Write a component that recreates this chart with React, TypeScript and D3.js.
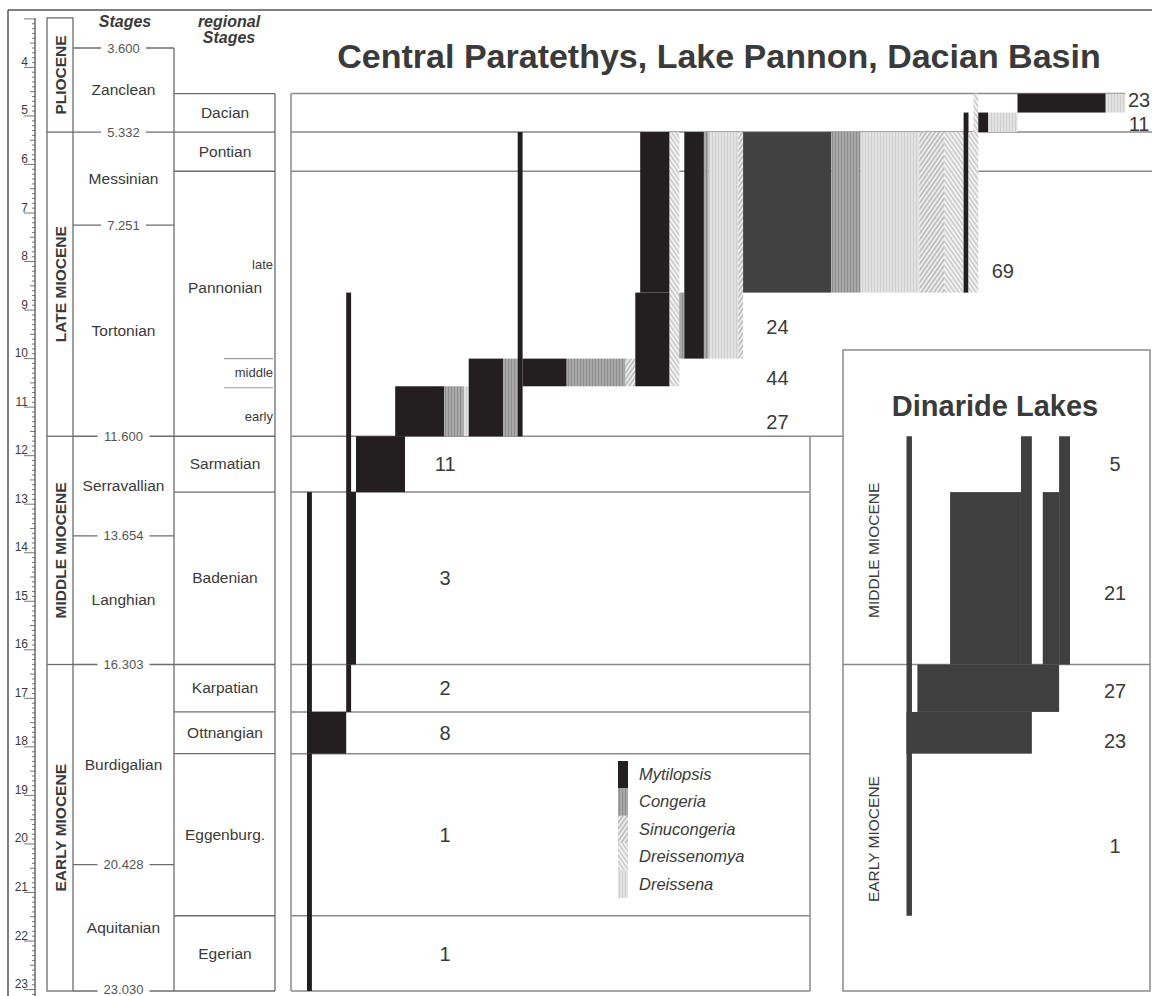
import React, { useRef, useEffect } from 'react';
import * as d3 from 'd3';

// ages in Ma, bar widths in number of species
const ageTicks = [4, 5, 6, 7, 8, 9, 10, 11, 12, 13, 14, 15, 16, 17, 18, 19, 20, 21, 22, 23];

const epochNames = ['PLIOCENE', 'LATE MIOCENE', 'MIDDLE MIOCENE', 'EARLY MIOCENE'];
const epochBounds = [2.98, 5.332, 11.6, 16.303, 23.03];

const stageNames = ['Zanclean', 'Messinian', 'Tortonian', 'Serravallian', 'Langhian', 'Burdigalian', 'Aquitanian'];
const stageBounds = [3.6, 5.332, 7.251, 11.6, 13.654, 16.303, 20.428, 23.03];
const stageBoundLabels = ['3.600', '5.332', '7.251', '11.600', '13.654', '16.303', '20.428', '23.030'];

const regionalNames = ['Dacian', 'Pontian', 'Pannonian', 'Sarmatian', 'Badenian', 'Karpatian', 'Ottnangian', 'Eggenburg.', 'Egerian'];
const regionalBounds = [4.54, 5.332, 6.14, 11.6, 12.75, 16.303, 17.28, 18.14, 21.48, 23.03];
const regionalLabelAges = [4.94, 5.74, 8.55, 12.18, 14.53, 16.79, 17.71, 19.81, 22.26];
const pannonianSubNames = ['late', 'middle', 'early'];
const pannonianSubBounds = [10.0, 10.6];
const pannonianSubLabelAges = [8.07, 10.3, 11.2];

const genera = ['Mytilopsis', 'Congeria', 'Sinucongeria', 'Dreissenomya', 'Dreissena'];

// [genus, first species slot, last species slot, young age, old age]
const paratethysRanges: [string, number, number, number, number][] = [
  ['Mytilopsis', 0, 1, 18.14, 23.03],
  ['Mytilopsis', 0, 8, 17.28, 18.14],
  ['Mytilopsis', 0, 1, 12.75, 17.28],
  ['Mytilopsis', 8, 9, 16.303, 17.28],
  ['Mytilopsis', 8, 10, 12.75, 16.303],
  ['Mytilopsis', 8, 9, 8.64, 12.75],
  ['Mytilopsis', 10, 20, 11.6, 12.75],
  ['Mytilopsis', 18, 28, 10.57, 11.6],
  ['Congeria', 28, 32, 10.57, 11.6],
  ['Dreissena', 32, 33, 10.57, 11.6],
  ['Mytilopsis', 33, 40, 10.0, 11.6],
  ['Congeria', 40, 43, 10.0, 11.6],
  ['Mytilopsis', 43, 44, 5.332, 11.6],
  ['Mytilopsis', 44, 53, 10.0, 10.57],
  ['Congeria', 53, 65, 10.0, 10.57],
  ['Sinucongeria', 65, 67, 10.0, 10.57],
  ['Mytilopsis', 67, 74, 8.64, 10.57],
  ['Mytilopsis', 68, 74, 5.332, 8.64],
  ['Dreissenomya', 74, 76, 5.332, 10.57],
  ['Congeria', 76, 77, 8.64, 10.0],
  ['Mytilopsis', 77, 81, 5.332, 10.0],
  ['Congeria', 81, 82, 5.332, 10.0],
  ['Dreissena', 82, 88, 5.332, 10.0],
  ['Sinucongeria', 88, 89, 5.332, 10.0],
  ['Congeria s.l.', 89, 107, 5.332, 8.64],
  ['Congeria', 107, 113, 5.332, 8.64],
  ['Dreissena', 113, 125, 5.332, 8.64],
  ['Sinucongeria', 125, 130, 5.332, 8.64],
  ['Dreissenomya', 130, 134, 5.332, 8.64],
  ['Mytilopsis', 134, 135, 4.93, 8.64],
  ['Dreissenomya', 135, 137, 5.332, 8.64],
  ['Dreissenomya', 136, 137, 4.54, 5.332],
  ['Mytilopsis', 137, 139, 4.93, 5.332],
  ['Dreissena', 139, 145, 4.93, 5.332],
  ['Mytilopsis', 145, 163, 4.54, 4.93],
  ['Dreissena', 163, 167, 4.54, 4.93],
];
const paratethysCounts = ['1', '1', '8', '2', '3', '11', '27', '44', '24', '69', '11', '23'];
const paratethysCountAges = [22.26, 19.81, 17.71, 16.79, 14.53, 12.18, 11.3, 10.4, 9.35, 8.2, 5.16, 4.68];
const paratethysCountSlots = [28.2, 28.2, 28.2, 28.2, 28.2, 28.2, 96, 96, 96, 142, 169.8, 169.8];

const dinarideEpochNames = ['MIDDLE MIOCENE', 'EARLY MIOCENE'];
const dinarideEpochLabelAges = [13.95, 19.9];
const dinarideRanges: [number, number, number, number][] = [
  [0, 1, 11.6, 21.48],
  [0, 23, 17.28, 18.14],
  [2, 28, 16.303, 17.28],
  [8, 21, 12.75, 16.303],
  [21, 23, 11.6, 16.303],
  [25, 28, 12.75, 16.303],
  [28, 30, 11.6, 16.303],
];
const dinarideCounts = ['5', '21', '27', '23', '1'];
const dinarideCountAges = [12.17, 14.82, 16.84, 17.87, 20.04];

export default function App() {
  const svgRef = useRef<SVGSVGElement>(null);

  useEffect(() => {
    document.body.style.margin = '0';
    const svg = d3.select(svgRef.current);
    svg.selectAll('*').remove();

    const font = "'Liberation Sans', Arial, sans-serif";
    const ink = '#3a3a3a';
    const rule = '#6c6c6c';
    const frame = '#8a8a8a';

    const y = d3.scaleLinear().domain([3.6, 23.03]).range([48, 991]);
    const xP = d3.scaleLinear().domain([0, 170]).range([307, 307 + 170 * 4.9]);
    const xD = d3.scaleLinear().domain([0, 30]).range([906.5, 906.5 + 30 * 5.45]);

    // fills for the genera
    const defs = svg.append('defs');
    const hatch = (id: string, bg: string, fg: string, size: number, angle: number, lw: number) => {
      const p = defs
        .append('pattern')
        .attr('id', id)
        .attr('patternUnits', 'userSpaceOnUse')
        .attr('width', size)
        .attr('height', size)
        .attr('patternTransform', `rotate(${angle})`);
      p.append('rect').attr('width', size).attr('height', size).attr('fill', bg);
      p.append('line')
        .attr('x1', size / 2)
        .attr('x2', size / 2)
        .attr('y1', -1)
        .attr('y2', size + 1)
        .attr('stroke', fg)
        .attr('stroke-width', lw);
    };
    hatch('congeria', '#acacac', '#8c8c8c', 3, 0, 1.2);
    hatch('sinucongeria', '#eeeeee', '#9a9a9a', 3.5, 35, 1);
    hatch('dreissenomya', '#f3f3f3', '#b2b2b2', 3.5, -35, 1);
    hatch('dreissena', '#e2e2e2', '#cfcfcf', 3, 0, 1);
    const fills: Record<string, string> = {
      Mytilopsis: '#231f20',
      Congeria: 'url(#congeria)',
      'Congeria s.l.': '#414141',
      Sinucongeria: 'url(#sinucongeria)',
      Dreissenomya: 'url(#dreissenomya)',
      Dreissena: 'url(#dreissena)',
    };

    const line = (x1: number, y1: number, x2: number, y2: number, color = rule, w = 1.3) =>
      svg.append('line').attr('x1', x1).attr('y1', y1).attr('x2', x2).attr('y2', y2)
        .attr('stroke', color).attr('stroke-width', w);
    const text = (x: number, yy: number, s: string, size: number, anchor = 'middle') =>
      svg.append('text').attr('x', x).attr('y', yy).attr('text-anchor', anchor)
        .attr('font-family', font).attr('font-size', size).attr('fill', ink).text(s);

    // figure frame
    line(8, 10, 1152, 10, '#555', 1.5);
    line(8, 10, 8, 996, '#555', 1.5);

    // age axis
    line(35, 18, 35, 996, '#555', 1.3);
    d3.range(30, 236).forEach((k) => {
      const t = k / 10;
      const len = k % 10 === 0 ? 11 : k % 5 === 0 ? 5 : 3;
      line(35 - len, y(t), 35, y(t), '#555', 0.8);
    });
    ageTicks.forEach((t) => text(28, y(t) - 1.5, String(t), 12, 'end'));

    // epochs
    svg.append('rect').attr('x', 47).attr('y', y(epochBounds[0])).attr('width', 26)
      .attr('height', y(23.03) - y(epochBounds[0])).attr('fill', 'none').attr('stroke', rule).attr('stroke-width', 1.3);
    epochBounds.slice(1, -1).forEach((b) => line(47, y(b), 73, y(b)));
    epochNames.forEach((n, i) => {
      const cy = y((epochBounds[i] + epochBounds[i + 1]) / 2);
      svg.append('text').attr('transform', `translate(66,${cy}) rotate(-90)`).attr('text-anchor', 'middle')
        .attr('font-family', font).attr('font-size', 15.5).attr('font-weight', 'bold').attr('fill', ink).text(n);
    });

    // standard stages
    line(174, y(3.6), 174, 991);
    stageBounds.forEach((b, i) => {
      line(73, y(b), 174, y(b));
      const lab = stageBoundLabels[i];
      const w = lab.length * 7 + 10;
      svg.append('rect').attr('x', 123.5 - w / 2).attr('y', y(b) - 7).attr('width', w).attr('height', 14).attr('fill', '#fff');
      text(123.5, Math.min(y(b) + 4.5, 994), lab, 13).attr('fill', '#555');
    });
    stageNames.forEach((n, i) => text(123.5, y((stageBounds[i] + stageBounds[i + 1]) / 2) + 5, n, 15.5));

    // regional stages
    line(275, y(regionalBounds[0]), 275, 991);
    regionalBounds.forEach((b) => line(174, y(b), 275, y(b)));
    regionalNames.forEach((n, i) => text(225, y(regionalLabelAges[i]) + 5, n, 15.5));
    pannonianSubBounds.forEach((b) => line(224, y(b), 273, y(b), '#9a9a9a', 1.2));
    pannonianSubNames.forEach((n, i) => text(273, y(pannonianSubLabelAges[i]) + 4, n, 13, 'end'));

    // headers
    text(125, 27, 'Stages', 16).attr('font-weight', 'bold').attr('font-style', 'italic');
    text(229, 27, 'regional', 16).attr('font-weight', 'bold').attr('font-style', 'italic');
    text(229, 43, 'Stages', 16).attr('font-weight', 'bold').attr('font-style', 'italic');

    // Central Paratethys panel frame
    line(291, y(regionalBounds[0]), 291, 991, frame, 1.5);
    line(291, y(regionalBounds[0]), xP(167), y(regionalBounds[0]), frame, 1.5);
    line(291, y(5.332), 1152, y(5.332), frame, 1.5);
    line(291, y(6.14), 1152, y(6.14), frame, 1.5);
    line(291, y(11.6), 843, y(11.6), frame, 1.5);
    regionalBounds.slice(4).forEach((b) => line(291, y(b), 810, y(b), frame, 1.5));
    line(810, y(11.6), 810, 991, frame, 1.5);

    text(719, 68, 'Central Paratethys, Lake Pannon, Dacian Basin', 34).attr('font-weight', 'bold');

    svg.append('g').selectAll('rect').data(paratethysRanges).join('rect')
      .attr('x', (d) => xP(d[1]))
      .attr('width', (d) => xP(d[2]) - xP(d[1]))
      .attr('y', (d) => y(d[3]))
      .attr('height', (d) => y(d[4]) - y(d[3]))
      .attr('fill', (d) => fills[d[0]]);

    paratethysCounts.forEach((c, i) => text(xP(paratethysCountSlots[i]), y(paratethysCountAges[i]) + 7, c, 20));

    // legend
    genera.forEach((g, i) => {
      const top = 761 + i * 27.4;
      svg.append('rect').attr('x', 618).attr('y', top).attr('width', 10).attr('height', 27.4).attr('fill', fills[g]);
      text(639, top + 19, g, 16.5, 'start').attr('font-style', 'italic');
    });

    // Dinaride Lakes panel
    svg.append('rect').attr('x', 843).attr('y', 350).attr('width', 307).attr('height', 991 - 350)
      .attr('fill', 'none').attr('stroke', frame).attr('stroke-width', 1.5);
    line(843, y(16.303), 1150, y(16.303), frame, 1.5);
    text(995, 416, 'Dinaride Lakes', 29).attr('font-weight', 'bold');
    dinarideEpochNames.forEach((n, i) => {
      svg.append('text').attr('transform', `translate(879,${y(dinarideEpochLabelAges[i])}) rotate(-90)`)
        .attr('text-anchor', 'middle').attr('font-family', font).attr('font-size', 15.5).attr('fill', ink).text(n);
    });
    svg.append('g').selectAll('rect').data(dinarideRanges).join('rect')
      .attr('x', (d) => xD(d[0]))
      .attr('width', (d) => xD(d[1]) - xD(d[0]))
      .attr('y', (d) => y(d[2]))
      .attr('height', (d) => y(d[3]) - y(d[2]))
      .attr('fill', '#3f3f3f');
    dinarideCounts.forEach((c, i) => text(1115, y(dinarideCountAges[i]) + 7, c, 20));
  }, []);

  return (
    <svg
      ref={svgRef}
      width={1152}
      height={996}
      style={{ display: 'block', position: 'absolute', left: 0, top: 0, background: '#fff' }}
    ></svg>
  );
}
